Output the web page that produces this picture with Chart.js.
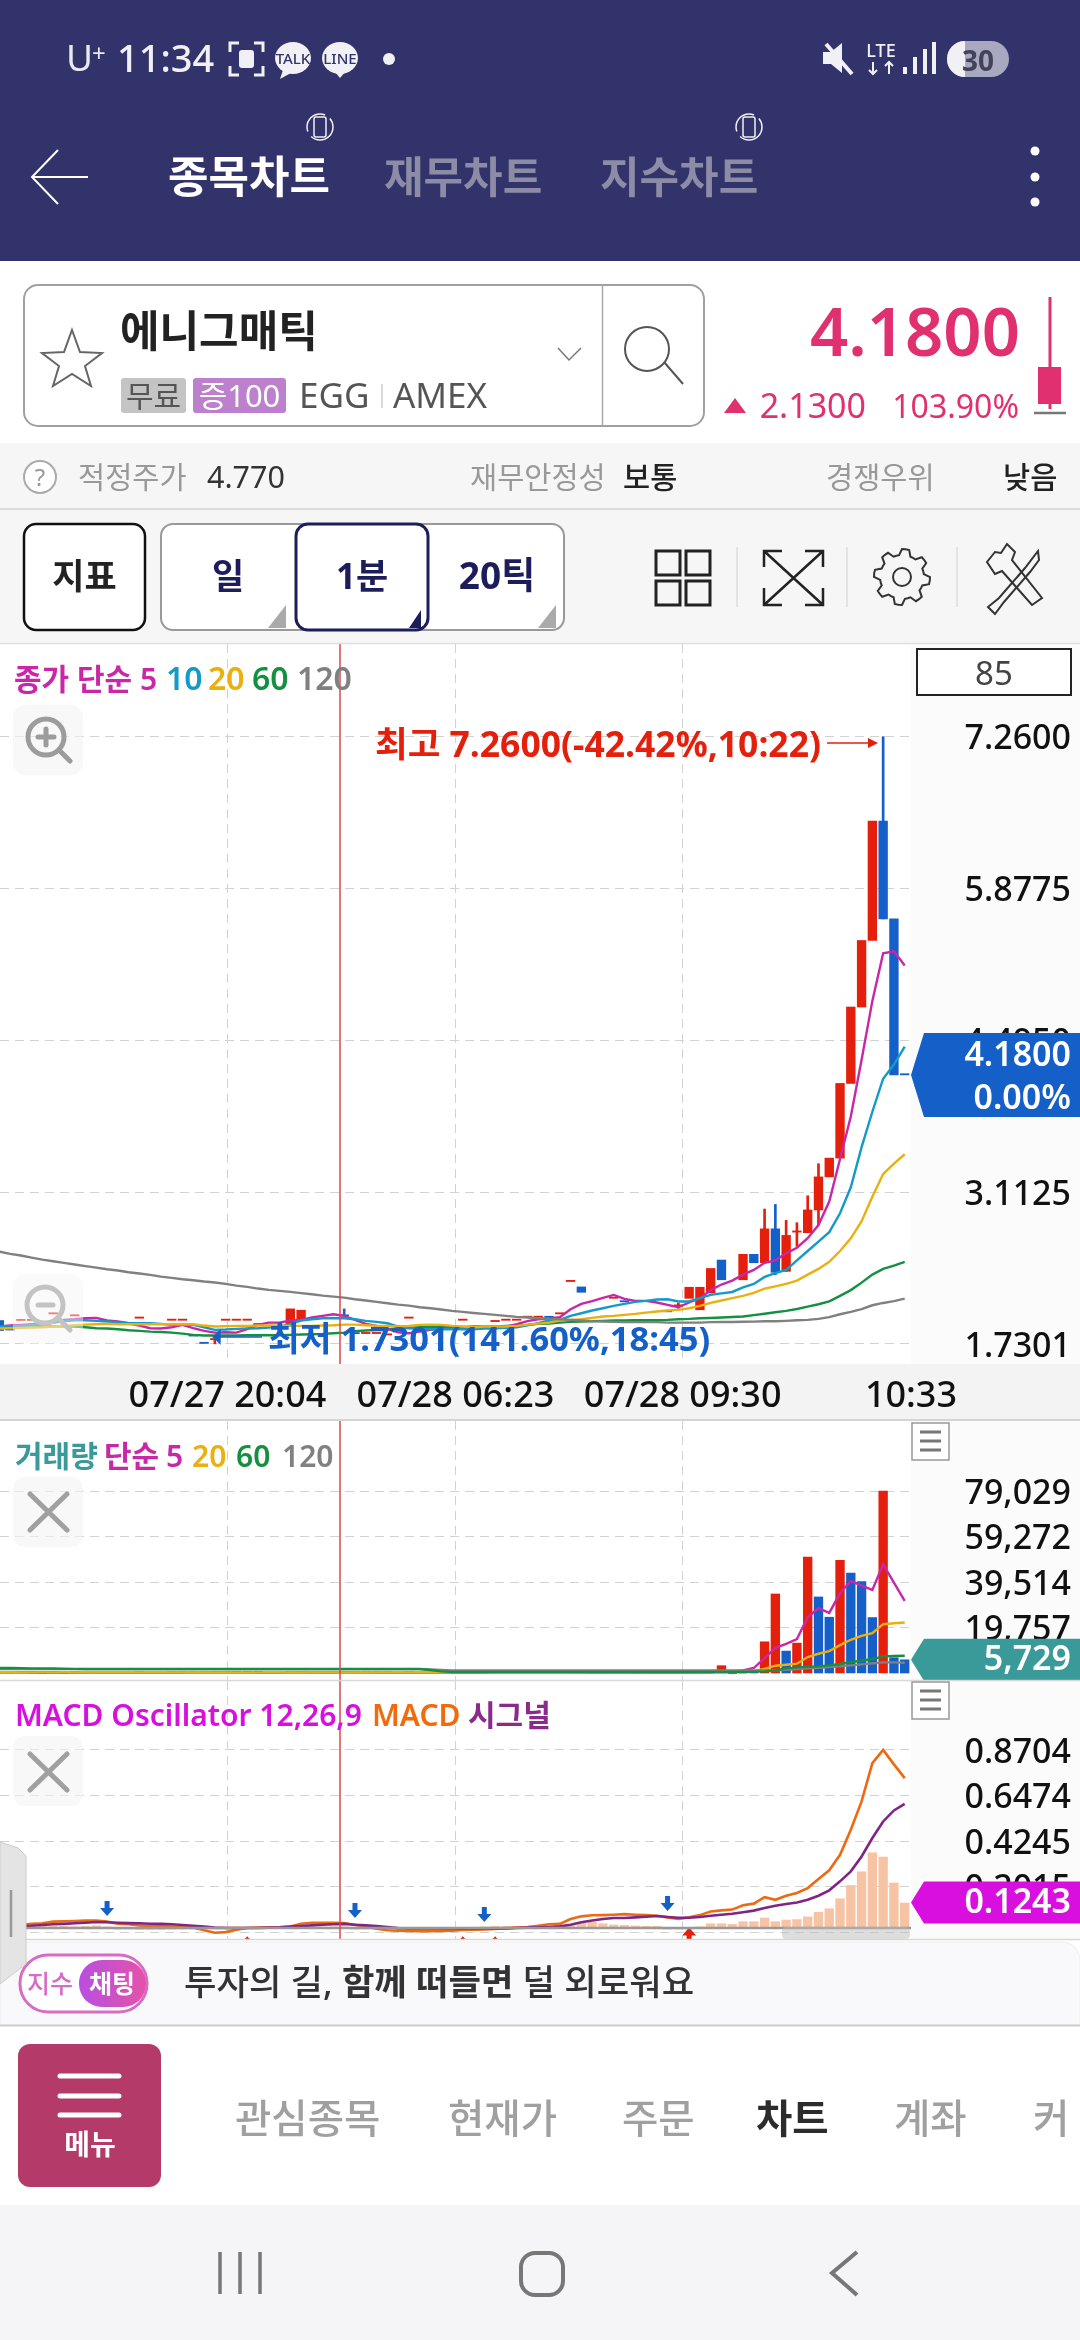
<!DOCTYPE html>
<html lang="ko">
<head>
<meta charset="utf-8">
<title>에니그매틱 차트</title>
<script src="https://cdn.jsdelivr.net/npm/chart.js@4/dist/chart.umd.min.js"></script>
<style>
  html, body { margin: 0; padding: 0; background: #fff; }
  #page { position: relative; width: 1080px; height: 2340px; overflow: hidden; }
  canvas { position: absolute; left: 0; }
  svg { position: absolute; left: 0; top: 0; pointer-events: none; }
  text { font-family: "Noto Sans", "Noto Sans CJK KR", sans-serif; }
</style>
</head>
<body>
<div id="page">
  <canvas id="priceChart" width="1080" height="776" style="top:644px"></canvas>
  <canvas id="volumeChart" width="1080" height="259" style="top:1421px"></canvas>
  <canvas id="macdChart" width="1080" height="259" style="top:1681px"></canvas>

  <svg width="1080" height="2340" viewBox="0 0 1080 2340">
    <!-- header -->
    <rect x="0" y="0" width="1080" height="261" fill="#32336a"/>
    <text x="66" y="71" font-size="37" fill="#e8e8f0">U</text>
    <text x="92" y="62" font-size="24" fill="#e8e8f0">+</text>
    <text x="117" y="72" font-size="38" font-weight="500" fill="#f0f0f5">11:34</text>
    <path d="M230 52v-9h9M254 43h9v9M263 66v9h-9M239 75h-9v-9" fill="none" stroke="#f0f0f5" stroke-width="3"/>
    <rect x="239" y="50" width="15" height="18" rx="3" fill="#f0f0f5"/>
    <ellipse cx="293" cy="58" rx="18" ry="16" fill="#f0f0f5"/>
    <path d="M283 70l-3 9 11-6z" fill="#f0f0f5"/>
    <text x="293" y="64" font-size="15" font-weight="500" fill="#32336a" text-anchor="middle">TALK</text>
    <ellipse cx="340" cy="58" rx="18" ry="16" fill="#f0f0f5"/>
    <path d="M335 72l5 6 6-7z" fill="#f0f0f5"/>
    <text x="340" y="64" font-size="15" font-weight="500" fill="#32336a" text-anchor="middle">LINE</text>
    <circle cx="389" cy="59" r="6" fill="#f0f0f5"/>
    <path d="M823 52h8l11-9v30l-11-9h-8z" fill="#f0f0f5"/>
    <path d="M826 44l26 30" stroke="#f0f0f5" stroke-width="4"/>
    <text x="881" y="57" font-size="18" font-weight="500" fill="#f0f0f5" text-anchor="middle">LTE</text>
    <path d="M873 62v12M869 70l4 4 4-4M889 74v-12M885 66l4-4 4 4" stroke="#f0f0f5" stroke-width="2" fill="none"/>
    <path d="M905 74v-7M915 74v-17M925 74v-25M934 74v-32" stroke="#f0f0f5" stroke-width="4"/>
    <rect x="947" y="41" width="62" height="36" rx="18" fill="#a8a8c0"/>
    <path d="M965 41a18 18 0 0 0 0 36z" fill="#f0f0f5"/>
    <text x="978" y="71" font-size="28" font-weight="700" fill="#42425a" text-anchor="middle">30</text>

    <path d="M88 177H32M58 150l-26 27 26 27" fill="none" stroke="#fff" stroke-width="2"/>
    <text x="168" y="193" font-size="44" font-weight="700" fill="#fff">종목차트</text>
    <text x="384" y="193" font-size="43" font-weight="700" fill="#8c8ca6">재무차트</text>
    <text x="600" y="193" font-size="43" font-weight="700" fill="#8c8ca6">지수차트</text>
    <g fill="none" stroke="#f0f0f5" stroke-width="1.5">
      <circle cx="320" cy="127" r="13" stroke-dasharray="30 6"/><rect x="314" y="117" width="12" height="20" rx="2"/>
      <circle cx="749" cy="127" r="13" stroke-dasharray="30 6"/><rect x="743" y="117" width="12" height="20" rx="2"/>
    </g>
    <circle cx="1035" cy="151" r="4.5" fill="#fff"/><circle cx="1035" cy="177" r="4.5" fill="#fff"/><circle cx="1035" cy="202" r="4.5" fill="#fff"/>

    <!-- symbol box -->
    <rect x="24" y="285" width="680" height="141" rx="14" fill="#fff" stroke="#a0a0a0" stroke-width="2"/>
    <path d="M602.5 285v141" stroke="#aaa" stroke-width="1.5"/>
    <path d="M72 330l8 22 22 1-17 13 6 20-19-12-19 12 6-20-17-13 22-1z" fill="none" stroke="#666" stroke-width="2"/>
    <text x="120" y="347" font-size="43" font-weight="700" fill="#222">에니그매틱</text>
    <rect x="121" y="378" width="65" height="35" rx="3" fill="#c4c4c4"/>
    <text x="153.5" y="407" font-size="30" fill="#555" text-anchor="middle">무료</text>
    <rect x="193" y="378" width="93" height="35" rx="3" fill="#bc80cc"/>
    <text x="239.5" y="407" font-size="31" fill="#fff" text-anchor="middle">증100</text>
    <text x="299" y="408" font-size="35" fill="#555">EGG</text>
    <path d="M382 384v24" stroke="#ccc" stroke-width="1.5"/>
    <text x="393" y="408" font-size="35" fill="#555">AMEX</text>
    <path d="M558 348l11 12 12-12" fill="none" stroke="#777" stroke-width="1.5"/>
    <circle cx="647" cy="349" r="22" fill="none" stroke="#555" stroke-width="2"/>
    <path d="M664 362l19 22" stroke="#555" stroke-width="2"/>

    <text x="1020" y="356" font-size="67" font-weight="600" fill="#e0306f" text-anchor="end">4.1800</text>
    <path d="M724 413l11-15 11 15z" fill="#e0306f"/>
    <text x="866" y="418" font-size="34" fill="#e0306f" text-anchor="end">2.1300</text>
    <text x="1019" y="418" font-size="32" fill="#e0306f" text-anchor="end">103.90%</text>
    <path d="M1050 297v112" stroke="#e0306f" stroke-width="3"/>
    <rect x="1038" y="367" width="23" height="37" fill="#e0306f"/>
    <path d="M1034 413h32" stroke="#777" stroke-width="2.5"/>

    <!-- info bar and toolbar -->
    <rect x="0" y="443" width="1080" height="200" fill="#f6f6f6"/>
    <path d="M0 509h1080" stroke="#dcdcdc" stroke-width="2"/>
    <path d="M0 643.5h1080" stroke="#e0e0e0" stroke-width="1.5"/>
    <circle cx="40" cy="477" r="16" fill="#fff" stroke="#aaa" stroke-width="2"/>
    <text x="40" y="486" font-size="24" fill="#999" text-anchor="middle">?</text>
    <text x="78" y="488" font-size="29.5" fill="#999">적정주가</text>
    <text x="207" y="488" font-size="30.5" fill="#333">4.770</text>
    <text x="470" y="488" font-size="29.5" fill="#999">재무안정성</text>
    <text x="623" y="488" font-size="29.5" font-weight="500" fill="#222">보통</text>
    <text x="826" y="488" font-size="29.5" fill="#999">경쟁우위</text>
    <text x="1003" y="488" font-size="29.5" font-weight="500" fill="#222">낮음</text>

    <rect x="24" y="524" width="121" height="106" rx="12" fill="#fff" stroke="#111" stroke-width="2.5"/>
    <text x="84.5" y="589" font-size="35" font-weight="700" fill="#222" text-anchor="middle">지표</text>
    <rect x="161" y="524" width="403" height="106" rx="12" fill="#fff" stroke="#999" stroke-width="2"/>
    <rect x="296" y="524" width="132" height="106" rx="12" fill="#fff" stroke="#1d1d5c" stroke-width="3"/>
    <text x="228" y="589" font-size="35" font-weight="700" fill="#1d1d5c" text-anchor="middle">일</text>
    <text x="362" y="589" font-size="35" font-weight="700" fill="#1d1d5c" text-anchor="middle">1분</text>
    <text x="497" y="589" font-size="37" font-weight="700" fill="#1d1d5c" text-anchor="middle">20틱</text>
    <path d="M268 628l18-23v23z" fill="#aaa"/>
    <path d="M409 628l12-18v18z" fill="#1d1d5c"/>
    <path d="M538 628l18-23v23z" fill="#aaa"/>
    <g fill="none" stroke="#222" stroke-width="3">
      <rect x="656" y="551" width="24" height="24"/><rect x="686" y="551" width="24" height="24"/>
      <rect x="656" y="581" width="24" height="24"/><rect x="686" y="581" width="24" height="24"/>
      <path d="M782 551h-18v16M805 551h18v16M764 588v17h18M823 588v17h-18M764 551l59 54M823 551l-59 54" stroke-width="2.5"/>
    </g>
    <path d="M737 547v60M847 547v60M957 547v60" stroke="#ddd" stroke-width="1.5"/>
    <circle cx="902" cy="577" r="9" fill="none" stroke="#333" stroke-width="2"/>
    <path id="gear" fill="none" stroke="#333" stroke-width="2"/>
    <g fill="none" stroke="#333" stroke-width="2">
      <path d="M995 552l-8 10 8 12 7-3 30 34 10-7-30-38 3-8-8-8-6 9z"/>
      <path d="M1038 551l-13 17-26 30-11 9 7 7 9-12 26-30 9-12z"/>
    </g>

    <!-- price panel -->
    <rect x="917" y="649" width="154" height="46" fill="#fff" stroke="#222" stroke-width="2"/>
    <text x="994" y="685" font-size="33" fill="#444" text-anchor="middle">85</text>
    <g font-size="30" font-weight="600">
      <text x="14" y="690" fill="#c926a8">종가 단순 5</text>
      <text x="166" y="690" font-size="32" fill="#149ac8">10</text>
      <text x="208" y="690" font-size="32" fill="#eab010">20</text>
      <text x="252" y="690" font-size="32" fill="#149040">60</text>
      <text x="297" y="690" font-size="32" fill="#808080">120</text>
    </g>
    <rect x="13" y="705" width="70" height="70" rx="12" fill="#f4f4f4" fill-opacity=".6"/>
    <g fill="none" stroke="#9c9c9c" stroke-width="5" stroke-linecap="round">
      <circle cx="46" cy="737" r="18"/><path d="M60 751l10 10M38 737h16M46 729v16"/>
      <circle cx="45" cy="1305" r="18"/><path d="M59 1319l11 11M38 1305h15"/>
    </g>
    <rect x="13" y="1274" width="70" height="70" rx="12" fill="#f4f4f4" fill-opacity=".45"/>

    <!-- volume panel -->
    <path d="M0 1420h1080" stroke="#d4d4d4" stroke-width="2"/>
    <g font-size="30" font-weight="600">
      <text x="15" y="1467" fill="#3a9a9a">거래량</text>
      <text x="104" y="1467" fill="#c926a8">단순</text>
      <text x="166" y="1467" fill="#c926a8">5</text>
      <text x="192" y="1467" fill="#eab010">20</text>
      <text x="236" y="1467" fill="#149040">60</text>
      <text x="282" y="1467" fill="#808080">120</text>
    </g>
    <rect x="13" y="1477" width="70" height="70" rx="12" fill="#f4f4f4" fill-opacity=".6"/>
    <path d="M30 1494l37 36M67 1494l-37 36" stroke="#a0a0a0" stroke-width="5" stroke-linecap="round"/>
    <rect x="912" y="1423" width="37" height="37" fill="#fff" stroke="#999" stroke-width="1.5"/>
    <path d="M920 1432h21M920 1441h21M920 1450h21" stroke="#777" stroke-width="3"/>
    <path d="M0 1680.5h1080" stroke="#d8d8d8" stroke-width="1.5"/>

    <!-- macd panel -->
    <g font-size="30" font-weight="600">
      <text x="15" y="1726" fill="#d90fe0">MACD Oscillator 12,26,9</text>
      <text x="372" y="1726" fill="#f26a0c">MACD</text>
      <text x="468" y="1726" fill="#8a2a8a">시그널</text>
    </g>
    <rect x="13" y="1736" width="70" height="70" rx="12" fill="#f4f4f4" fill-opacity=".6"/>
    <path d="M30 1754l37 36M67 1754l-37 36" stroke="#a0a0a0" stroke-width="5" stroke-linecap="round"/>
    <rect x="912" y="1682" width="37" height="37" fill="#fff" stroke="#999" stroke-width="1.5"/>
    <path d="M920 1691h21M920 1700h21M920 1709h21" stroke="#777" stroke-width="3"/>
    <rect x="782" y="1927" width="128" height="12" rx="4" fill="#bcbcbc" fill-opacity=".5"/>
    <path d="M0 1939.5h1080" stroke="#d8d8d8" stroke-width="1.5"/>

    <!-- bottom: banner, menu, nav -->
    <rect x="0" y="1941" width="1080" height="85" fill="#fff"/>
    <path d="M0 2025V1960a18 18 0 0 1 18-18H1062a18 18 0 0 1 18 18V2025z" fill="#f9f9fb" stroke="#eee"/>
    <path d="M0 2025.5h1080" stroke="#ccc" stroke-width="2"/>
    <defs><linearGradient id="pill" x1="0" x2="1"><stop offset="0" stop-color="#b84fe0"/><stop offset="1" stop-color="#e452a8"/></linearGradient></defs>
    <rect x="20" y="1955" width="127" height="57" rx="28" fill="#fff" stroke="#d86cc4" stroke-width="3"/>
    <rect x="79" y="1960" width="67" height="47" rx="23" fill="url(#pill)"/>
    <text x="50" y="1993" font-size="25" font-weight="500" fill="#d86cc4" text-anchor="middle">지수</text>
    <text x="112" y="1993" font-size="25" font-weight="700" fill="#fff" text-anchor="middle">채팅</text>
    <text x="184" y="1995" font-size="35.3" font-weight="500" fill="#333">투자의 길, <tspan font-weight="700">함께 떠들면</tspan> 덜 외로워요</text>
    <path d="M0 1842l18 6 8 8v108l-26 20z" fill="#e4e4e4" stroke="#ccc"/>
    <path d="M11 1890v47" stroke="#999" stroke-width="2.5"/>

    <rect x="0" y="2027" width="1080" height="178" fill="#fff"/>
    <rect x="18" y="2044" width="143" height="143" rx="12" fill="#b33a69"/>
    <path d="M60 2076h59M60 2096h59M60 2115h59" stroke="#fff" stroke-width="5" stroke-linecap="round"/>
    <text x="90" y="2155" font-size="28" font-weight="700" fill="#fff" text-anchor="middle">메뉴</text>
    <g font-size="39.5" font-weight="500" fill="#a0a0a0">
      <text x="235" y="2133">관심종목</text>
      <text x="448" y="2133">현재가</text>
      <text x="622" y="2133">주문</text>
      <text x="756" y="2133" font-weight="700" fill="#2c2c2c">차트</text>
      <text x="894" y="2133">계좌</text>
    </g>
    <defs><clipPath id="navClip"><rect x="1000" y="2090" width="65" height="60"/></clipPath></defs>
    <text x="1033" y="2133" font-size="39.5" font-weight="500" fill="#a0a0a0" clip-path="url(#navClip)">커뮤니티</text>

    <rect x="0" y="2205" width="1080" height="135" fill="#f5f5f7"/>
    <path d="M220 2252v42M240 2252v42M260 2252v42" stroke="#777" stroke-width="3.5"/>
    <rect x="521" y="2253" width="42" height="42" rx="14" fill="none" stroke="#777" stroke-width="4"/>
    <path d="M857 2252l-25 21 25 22" fill="none" stroke="#777" stroke-width="4"/>
  </svg>
</div>

<script>
// bar numbers, 85 one minute bars (the 85 in the box)
const bars = [1,2,3,4,5,6,7,8,9,10,11,12,13,14,15,16,17,18,19,20,21,22,23,24,25,26,27,28,29,30,31,32,33,34,35,36,37,38,39,40,41,42,43,44,45,46,47,48,49,50,51,52,53,54,55,56,57,58,59,60,61,62,63,64,65,66,67,68,69,70,71,72,73,74,75,76,77,78,79,80,81,82,83,84,85];

const opens = [1.943,1.858,1.943,1.943,null,2.003,null,1.985,null,null,
  null,null,null,1.964,null,null,1.945,1.945,1.803,1.736,
  1.768,1.945,1.945,1.945,1.907,null,null,1.906,1.943,null,
  null,null,1.986,1.825,1.824,1.824,1.811,null,1.964,null,
  null,null,null,1.945,null,null,1.933,1.945,1.945,1.972,
  1.972,1.973,2.003,2.298,2.249,null,null,2.145,2.115,null,
  null,null,2.024,2.075,2.145,2.041,2.193,2.494,null,2.314,
  2.546,2.469,2.778,2.391,2.748,2.743,2.95,3.251,3.422,4.102,
  4.798,5.404,6.491,5.601,4.181];
const closes = [1.852,1.856,1.943,1.943,null,2.003,null,1.985,null,null,
  null,null,null,1.964,null,null,1.945,1.945,1.801,1.734,
  1.768,1.945,1.945,1.945,1.905,null,null,2.049,2.037,null,
  null,null,1.984,1.823,1.824,1.824,1.811,null,1.964,null,
  null,null,null,1.945,null,null,1.933,1.945,1.945,1.972,
  1.972,1.971,2.003,2.298,2.2,null,null,2.145,2.113,null,
  null,null,2.022,2.075,2.246,2.246,2.417,2.314,null,2.546,
  2.469,2.778,2.382,2.718,2.748,2.95,3.251,3.422,4.102,4.798,
  5.404,6.491,5.601,4.18,4.18];
const wickBars = [21,33,64,72,73,74,75,76,77,83];
const wickHighs = [1.768,2.049,2.1,2.958,3.0,2.855,2.834,3.079,3.371,7.26];
const wickLows = [1.7301,1.985,2.055,2.469,2.36,2.391,2.619,2.743,2.812,5.601];

const ma5 = [1.888,1.897,1.903,1.909,1.915,1.924,1.949,1.955,1.964,1.967,
  1.943,1.934,1.918,1.897,1.873,1.87,1.882,1.903,1.873,1.849,
  1.833,1.836,1.833,1.864,1.903,1.924,1.924,1.943,1.949,1.97,
  1.985,2.0,1.985,1.949,1.912,1.894,1.867,1.836,1.827,1.842,
  1.858,1.873,1.879,1.879,1.879,1.876,1.873,1.888,1.909,1.937,
  1.955,1.961,1.973,2.046,2.094,2.119,2.149,2.176,2.14,2.122,
  2.122,2.107,2.085,2.064,2.107,2.146,2.22,2.271,2.306,2.361,
  2.404,2.469,2.49,2.555,2.606,2.692,2.812,3.027,3.414,3.801,
  4.317,4.854,5.288,5.305,5.176];
const ma10 = [1.888,1.891,1.894,1.9,1.909,1.924,1.937,1.946,1.946,1.94,
  1.934,1.928,1.918,1.918,1.918,1.912,1.903,1.903,1.903,1.882,
  1.858,1.861,1.867,1.87,1.873,1.879,1.888,1.912,1.943,1.955,
  1.964,1.964,1.964,1.955,1.94,1.931,1.918,1.888,1.873,1.867,
  1.864,1.864,1.864,1.864,1.864,1.87,1.873,1.876,1.882,1.9,
  1.918,1.943,1.949,1.985,2.009,2.034,2.055,2.076,2.094,2.113,
  2.122,2.134,2.137,2.116,2.116,2.146,2.177,2.19,2.203,2.245,
  2.276,2.34,2.374,2.404,2.49,2.576,2.662,2.748,2.92,3.156,
  3.522,3.844,4.145,4.274,4.437];
const ma20 = [1.87,1.873,1.876,1.879,1.882,1.888,1.894,1.9,1.906,1.909,
  1.912,1.909,1.909,1.909,1.909,1.909,1.909,1.909,1.909,1.897,
  1.888,1.891,1.894,1.894,1.897,1.897,1.897,1.894,1.894,1.894,
  1.897,1.9,1.906,1.906,1.9,1.894,1.894,1.888,1.894,1.903,
  1.906,1.903,1.894,1.888,1.882,1.888,1.888,1.888,1.894,1.906,
  1.915,1.924,1.943,1.949,1.955,1.967,1.979,1.985,1.994,2.003,
  2.015,2.025,2.034,2.04,2.055,2.076,2.104,2.125,2.147,2.168,
  2.194,2.233,2.254,2.276,2.306,2.361,2.413,2.477,2.576,2.692,
  2.847,3.071,3.277,3.371,3.457];
const ma60 = [1.888,1.888,1.888,1.888,1.888,1.891,1.891,1.888,1.882,1.873,
  1.87,1.864,1.855,1.849,1.842,1.839,1.833,1.824,1.812,1.806,
  1.806,1.806,1.806,1.809,1.809,1.809,1.809,1.812,1.815,1.818,
  1.821,1.827,1.833,1.846,1.852,1.858,1.864,1.87,1.876,1.882,
  1.882,1.882,1.882,1.882,1.888,1.888,1.888,1.894,1.897,1.903,
  1.912,1.915,1.924,1.931,1.934,1.937,1.94,1.943,1.943,1.946,
  1.946,1.946,1.949,1.955,1.958,1.964,1.966,1.97,1.975,1.979,
  1.992,2.005,2.018,2.031,2.048,2.069,2.091,2.117,2.168,2.22,
  2.288,2.361,2.413,2.443,2.477];
const ma120 = [2.571,2.55,2.535,2.516,2.498,2.483,2.468,2.453,2.438,2.425,
  2.41,2.398,2.383,2.371,2.359,2.343,2.331,2.319,2.31,2.298,
  2.289,2.277,2.261,2.249,2.234,2.222,2.213,2.204,2.192,2.182,
  2.17,2.161,2.152,2.137,2.125,2.113,2.1,2.088,2.079,2.064,
  2.055,2.043,2.031,2.022,2.012,2.003,1.994,1.985,1.976,1.97,
  1.964,1.958,1.955,1.949,1.943,1.937,1.934,1.931,1.928,1.928,
  1.928,1.928,1.924,1.924,1.924,1.924,1.928,1.93,1.93,1.932,
  1.933,1.936,1.936,1.94,1.945,1.949,1.958,1.974,2.0,2.022,
  2.047,2.082,2.103,2.12,2.142];

const volumes = [300,150,120,100,0,180,0,120,0,0,
  0,0,0,90,0,0,110,120,160,200,
  260,100,90,90,120,0,0,420,300,0,
  0,0,160,110,90,90,120,0,120,0,
  0,0,0,90,0,0,90,90,90,110,
  90,120,150,500,260,0,0,110,150,0,
  0,0,130,170,300,520,600,3172,0,640,
  380,13555,34320,9517,12978,50326,33022,24226,48884,43404,
  39655,24081,79029,6633,5729];
const volumeBlueBars = [1,2,19,20,25,33,34,52,55,59,63,71,74,77,78,80,81,82,84,85];
const volMa5 = [300,280,260,240,220,200,180,170,150,150,
  140,130,120,120,110,110,120,130,150,180,
  200,190,170,150,130,120,110,150,200,210,
  200,190,220,180,150,130,120,110,110,100,
  100,90,80,80,70,70,80,90,90,100,
  100,110,120,210,250,230,210,180,160,150,
  120,100,90,110,140,230,300,700,720,1154,
  2163,6489,10959,12690,14708,24226,28119,26100,34608,39943,
  37925,36050,47298,39222,31291];
const volMa20 = [300,300,290,280,280,270,260,250,240,230,
  220,220,210,210,200,200,200,190,190,190,
  190,190,180,180,170,170,170,190,200,210,
  210,210,220,220,220,220,210,210,210,200,
  190,180,170,160,150,150,140,130,130,130,
  130,130,130,140,150,150,160,170,170,170,
  180,180,190,190,200,230,260,420,440,500,
  900,1730,3172,3605,4038,6922,8364,9517,12113,14420,
  16150,17304,21197,21630,21918];
const volMa60 = [2170,2170,2100,2000,2000,1950,1850,1780,1740,1740,
  1740,1740,1740,1740,1740,1740,1740,1740,1740,1740,
  1740,1740,1740,1740,1740,1740,1740,1740,1740,1740,
  1740,1740,1740,1740,1740,1740,1740,1740,1740,1740,
  1300,700,433,433,433,433,433,433,433,433,
  433,433,433,433,433,433,433,433,433,433,
  433,433,433,433,433,433,433,433,433,433,
  600,721,1154,2019,2451,2740,2884,3317,3893,4759,
  5335,6056,7210,7354,7498];
const volMa120 = [1700,1700,1700,1700,1700,1700,1700,1700,1700,1700,
  1700,1700,1700,1700,1700,1700,1700,1700,1700,1700,
  1700,1700,1700,1700,1700,1700,1700,1700,1700,1700,
  1700,1700,1700,1700,1700,1700,1700,1700,1700,1700,
  1500,1300,1154,1154,1154,1154,1154,1154,1154,1154,
  1154,1154,1154,1154,1154,1154,1154,1154,1154,1154,
  1154,1154,1154,1154,1154,1154,1154,1154,1154,1154,
  1154,1154,1154,1442,1730,2019,2307,2596,2884,3317,
  3749,4182,4614,4614,4470];

const macdOsc = [.02,.02,.01,.008,.008,.008,.008,.006,.008,.011,
  .006,-.003,-.005,-.008,-.008,-.008,-.005,-.003,-.002,-.005,
  -.006,.004,.006,.006,.006,.006,.003,.002,.003,.005,
  .005,.005,.004,-.002,-.005,-.006,-.006,-.005,-.005,-.004,
  -.004,-.004,-.003,-.003,-.002,.004,.008,.008,.008,.004,
  .004,.006,.008,.011,.024,.028,.021,.015,.013,.01,
  .008,.008,-.004,-.006,-.002,.004,.021,.021,.018,.031,
  .031,.049,.031,.039,.041,.054,.077,.094,.143,.208,
  .275,.368,.347,.22,.122];
const macdLine = [.013,.015,.016,.02,.023,.031,.033,.034,.036,.037,
  .031,.021,.018,.013,.01,.008,.007,.005,.003,-.011,
  -.023,-.02,-.008,0,.002,.003,.003,.007,.021,.026,
  .026,.026,.024,.015,.007,-.003,-.011,-.013,-.015,-.016,
  -.016,-.015,-.013,-.01,-.008,-.007,-.005,-.002,.002,.005,
  .011,.018,.02,.044,.057,.062,.063,.065,.068,.065,
  .063,.06,.052,.044,.052,.063,.081,.086,.09,.111,
  .119,.151,.138,.158,.171,.195,.239,.282,.358,.48,
  .619,.806,.871,.8,.733];
const macdSignal = [.007,.008,.01,.011,.015,.018,.02,.023,.026,.029,
  .028,.026,.024,.023,.021,.02,.018,.015,.011,.007,
  .002,0,0,0,0,.002,.003,.007,.01,.013,
  .016,.018,.02,.016,.013,.01,.005,0,-.002,-.002,
  -.002,-.002,-.002,-.002,-.002,-.002,-.002,-.002,0,.002,
  .003,.005,.008,.016,.028,.037,.044,.049,.049,.052,
  .055,.059,.054,.05,.05,.054,.06,.065,.07,.077,
  .085,.098,.109,.117,.125,.138,.158,.184,.228,.277,
  .35,.44,.521,.575,.607];
const sellBars = [11,34,46,63];
const sellLevels = [.059,.049,.029,.083];
const buyBars = [24,44,47,65];
const buyLevels = [-.04,-.04,-.04,.003];

const priceTicks = [7.26,5.8775,4.495,3.1125,1.7301];
const volumeTicks = [79029,59272,39514,19757];
const macdTicks = [.8704,.6474,.4245,.2015,-.0215];
const timeBars = [22.17,43.32,64.4,85.58];
const timeLabels = ["07/27 20:04","07/28 06:23","07/28 09:30","10:33"];

const RED = "#e41f0c", BLUE = "#1560c8";
const FONT = '"Noto Sans", "Noto Sans CJK KR", sans-serif';
const CURSOR_BAR = 32.61;

// gear icon in the toolbar, 8 teeth
let gearPath = "";
for (let k = 0; k < 48; k++) {
  const a = k / 48 * Math.PI * 2, tooth = (k % 6) < 3;
  gearPath += (k ? "L" : "M") + (902 + Math.cos(a) * (tooth ? 28 : 22)).toFixed(1) + " " + (577 + Math.sin(a) * (tooth ? 28 : 22)).toFixed(1);
}
document.getElementById("gear").setAttribute("d", gearPath + "z");

const pts = arr => arr.map((v, k) => ({ x: bars[k], y: v }));
const line = (arr, color, w) => ({ type: "line", data: pts(arr), borderColor: color, borderWidth: w || 2.4, pointRadius: 0, tension: 0 });

function candleColor(bar) {
  return opens[bar - 1] > closes[bar - 1] ? BLUE : RED;
}

// chart.js leaves room for half a tick label at the ends, the app does not
function noPadX(s, h) {
  s.height = h;
  s.paddingLeft = 0; s.paddingRight = 0;
}
function noPadY(s) {
  s.width = 160;
  s.paddingTop = 0; s.paddingBottom = 0;
}

function axes(ymin, ymax, ticks, fmt, xExtra) {
  return {
    x: Object.assign({
      type: "linear", offset: false, min: 1.067, max: 85.584,
      afterBuildTicks: s => { s.ticks = timeBars.map(v => ({ value: v })); },
      grid: { offset: false, drawTicks: false, color: c => c.index === 3 ? "transparent" : "#d2d2d2" },
      border: { display: false, dash: [9, 6] },
      ticks: { display: false, autoSkip: false, maxRotation: 0 },
      afterFit: s => noPadX(s, 0)
    }, xExtra || {}),
    y: {
      position: "right", min: ymin, max: ymax,
      afterBuildTicks: s => { s.ticks = ticks.map(v => ({ value: v })); },
      afterFit: noPadY,
      grid: { drawTicks: false, color: "#d2d2d2" },
      border: { display: false, dash: [9, 6] },
      ticks: { callback: fmt, crossAlign: "far", autoSkip: false, padding: 0, labelOffset: 3, color: "#111", font: { family: FONT, size: 34, weight: "500" } }
    }
  };
}

// right column, cursor line, value badge. one per panel
function panelPlugin(value, label1, label2, color, extra) {
  return {
    id: "panel",
    beforeDraw(chart) {
      const { ctx, chartArea: a } = chart;
      ctx.save();
      ctx.fillStyle = "#fbfbfb";
      ctx.fillRect(a.right, 0, chart.width - a.right, chart.height);
      if (chart.height > a.bottom + 1) {
        ctx.fillStyle = "#f3f3f3";
        ctx.fillRect(0, a.bottom, chart.width, chart.height - a.bottom);
      }
      ctx.restore();
    },
    afterDraw(chart) {
      const { ctx, chartArea: a, scales } = chart;
      const y = scales.y.getPixelForValue(value);
      const cx = scales.x.getPixelForValue(CURSOR_BAR);
      ctx.save();
      if (extra) extra(chart);
      ctx.strokeStyle = "#d9484c";
      ctx.lineWidth = 1.5;
      ctx.beginPath(); ctx.moveTo(cx, a.top); ctx.lineTo(cx, a.bottom); ctx.stroke();
      const h = label2 ? 42 : 21;
      ctx.fillStyle = color;
      ctx.beginPath();
      ctx.moveTo(a.right, y);
      ctx.lineTo(a.right + 13, y - h);
      ctx.lineTo(chart.width, y - h);
      ctx.lineTo(chart.width, y + h);
      ctx.lineTo(a.right + 13, y + h);
      ctx.closePath();
      ctx.fill();
      ctx.fillStyle = "#fff";
      ctx.textAlign = "right";
      ctx.textBaseline = "middle";
      ctx.font = "600 34px " + FONT;
      if (label2) {
        ctx.fillText(label1, chart.width - 9, y - 19);
        ctx.fillText(label2, chart.width - 9, y + 24);
      } else {
        ctx.fillText(label1, chart.width - 9, y + 1);
      }
      ctx.restore();
    }
  };
}

const common = { responsive: false, animation: false, events: [], devicePixelRatio: 1,
  layout: { padding: { right: 9 } },
  plugins: { legend: { display: false }, tooltip: { enabled: false } } };

function barSet(data, colors, thick) {
  return { type: "bar", data, backgroundColor: colors, barThickness: thick, grouped: false, minBarLength: 1.2, borderWidth: 0 };
}

// PRICE
const shown = bars.filter(b => opens[b - 1] !== null);
const bodies = shown.map(b => ({ x: b, y: [opens[b - 1], closes[b - 1]] }));
const wicks = wickBars.map((b, k) => ({ x: b, y: [wickLows[k], wickHighs[k]] }));

function priceNotes(chart) {
  const { ctx, scales } = chart;
  ctx.textBaseline = "middle";
  ctx.textAlign = "right";
  ctx.font = "700 35.5px " + FONT;
  ctx.fillStyle = RED;
  ctx.fillText("최고 7.2600(-42.42%,10:22)", 821, 103);
  ctx.strokeStyle = RED; ctx.lineWidth = 1.5;
  ctx.beginPath(); ctx.moveTo(827, 99); ctx.lineTo(876, 99); ctx.stroke();
  ctx.beginPath(); ctx.moveTo(868, 94); ctx.lineTo(878, 99); ctx.lineTo(868, 104); ctx.fill();
  ctx.textAlign = "left";
  ctx.font = "700 34.5px " + FONT;
  ctx.fillStyle = BLUE;
  ctx.fillText("최저 1.7301(141.60%,18:45)", 268, 697);
  const tip = scales.x.getPixelForValue(20.8);
  ctx.strokeStyle = BLUE;
  ctx.beginPath(); ctx.moveTo(tip, 693); ctx.lineTo(262, 693); ctx.stroke();
  ctx.fillStyle = BLUE;
  ctx.beginPath(); ctx.moveTo(tip, 693); ctx.lineTo(tip + 8, 685); ctx.lineTo(tip + 8, 701); ctx.fill();
}

new Chart(document.getElementById("priceChart"), {
  type: "bar",
  data: { datasets: [
    line(ma120, "#808080"),
    line(ma20, "#eab010"),
    line(ma10, "#149ac8"),
    line(ma5, "#c926a8"),
    line(ma60, "#149040"),
    barSet(bodies, shown.map(candleColor), 8.7),
    Object.assign(barSet(wicks, wickBars.map(candleColor), 2), { minBarLength: 0 })
  ] },
  options: Object.assign({}, common, {
    scales: axes(1.547, 8.104, priceTicks, v => v.toFixed(4), {
      afterFit: s => noPadX(s, 56),
      ticks: {
        display: true, autoSkip: false, maxRotation: 0, minRotation: 0, padding: 11,
        color: "#111", font: { family: FONT, size: 36, weight: "500" },
        callback: (v, k) => timeLabels[k]
      }
    })
  }),
  plugins: [panelPlugin(4.18, "4.1800", "0.00%", BLUE, priceNotes)]
});

// VOLUME
new Chart(document.getElementById("volumeChart"), {
  type: "bar",
  data: { datasets: [
    line(volMa60, "#149040"),
    line(volMa120, "#808080"),
    line(volMa20, "#eab010"),
    line(volMa5, "#c926a8"),
    barSet(pts(volumes), bars.map(b => volumeBlueBars.includes(b) ? BLUE : RED), 8.7)
  ] },
  options: Object.assign({}, common, {
    scales: axes(-3040, 109425, volumeTicks, v => v.toLocaleString("en-US"))
  }),
  plugins: [panelPlugin(5729, "5,729", null, "#3a9a9a")]
});

// MACD
function macdMarks(chart) {
  const { ctx, scales, chartArea: a } = chart;
  const arrow = (bar, level, dir, color) => {
    const x = scales.x.getPixelForValue(bar);
    const y = scales.y.getPixelForValue(level);
    ctx.fillStyle = color;
    ctx.beginPath();
    ctx.moveTo(x, y);
    ctx.lineTo(x - 7, y - dir * 8);
    ctx.lineTo(x - 2.5, y - dir * 8);
    ctx.lineTo(x - 2.5, y - dir * 15);
    ctx.lineTo(x + 2.5, y - dir * 15);
    ctx.lineTo(x + 2.5, y - dir * 8);
    ctx.lineTo(x + 7, y - dir * 8);
    ctx.fill();
  };
  ctx.save();
  ctx.beginPath(); ctx.rect(a.left, a.top, a.right - a.left, a.bottom - a.top); ctx.clip();
  sellBars.forEach((b, k) => arrow(b, sellLevels[k], 1, BLUE));
  buyBars.forEach((b, k) => arrow(b, buyLevels[k], -1, "#e41f0c"));
  const zero = scales.y.getPixelForValue(0);
  ctx.strokeStyle = "#999";
  ctx.lineWidth = 2.5;
  ctx.beginPath(); ctx.moveTo(a.left, zero); ctx.lineTo(a.right, zero); ctx.stroke();
  ctx.restore();
}

new Chart(document.getElementById("macdChart"), {
  type: "bar",
  data: { datasets: [
    line(macdSignal, "#7f2585", 2.6),
    line(macdLine, "#ec6a12", 2.6),
    barSet(pts(macdOsc), macdOsc.map(v => v < 0 ? "#b4e0ea" : "#f6c4a4"), 8.7)
  ] },
  options: Object.assign({}, common, {
    scales: axes(-.0587, 1.2078, macdTicks, v => v < 0 ? "" : v.toFixed(4))
  }),
  plugins: [panelPlugin(.1243, "0.1243", null, "#d90fe0", macdMarks)]
});
</script>
</body>
</html>
